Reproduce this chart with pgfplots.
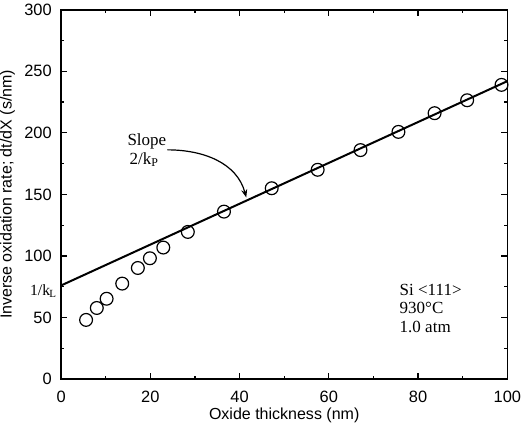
\documentclass[border=0pt]{standalone}
\usepackage{pgfplots}
\pgfplotsset{compat=1.18}
\usepackage{fontspec}
\setmainfont{Liberation Serif}
\setsansfont{Liberation Sans}
\usetikzlibrary{arrows.meta}
\begin{document}
\begin{tikzpicture}
\begin{axis}[
  scale only axis, width=223pt, height=184.5pt,
  xmin=0, xmax=100, ymin=0, ymax=300,
  xtick={0,20,...,100}, ytick={0,50,...,300},
  minor x tick num=1, minor y tick num=1,
  tick align=inside, major tick length=3pt, minor tick length=1.5pt,
  axis line style={line width=0.8pt},
  tick style={line width=0.6pt, black},
  /pgf/number format/assume math mode=true,
  ticklabel style={font=\sffamily\fontsize{8.2}{9}\selectfont, inner sep=0pt},
  xticklabel shift=6pt, yticklabel shift=4.5pt,
  xlabel={Oxide thickness (nm)},
  ylabel={Inverse oxidation rate; dt/dX (s/nm)},
  xlabel style={font=\sffamily\fontsize{8}{9}\selectfont, inner sep=0pt, yshift=-2pt},
  ylabel style={font=\sffamily\fontsize{8}{9}\selectfont, inner sep=0pt, yshift=4.5pt},
  clip=false,
]
\addplot[only marks, mark=o, mark size=3.2pt, mark options={line width=0.6pt}] coordinates {
(5.6,48) (8.0,57.7) (10.2,65.2) (13.7,77.5) (17.2,90.2) (19.9,98.1) (22.9,106.8) (28.4,119.5)
(36.5,136) (47.2,155) (57.5,170) (67.1,186) (75.6,200.8) (83.7,216) (91.0,226.5) (98.7,239)
};
\addplot[black, line width=1pt] coordinates {(0,76) (100,242)};
\node[font=\fontsize{8.5}{9.5}\selectfont, align=left, anchor=north west, inner sep=0pt] at (axis cs:14.8,200) {Slope\\\hspace*{1pt}2/k\textsubscript{P}};
\draw[-{Stealth[length=4pt,width=3pt]}, line width=0.6pt] (axis cs:23.8,186.2) to[out=0,in=105] (axis cs:41.5,147.5);
\node[font=\fontsize{7.8}{8}\selectfont, anchor=east, inner sep=0pt] at (axis cs:-0.8,71.5) {1/k\kern-0.3pt\textsubscript{L}};
\node[font=\fontsize{8.5}{9.3}\selectfont, anchor=north west, align=left, inner sep=0pt] at (axis cs:75.8,77.5) {Si <111>\\930°C\\1.0 atm};
\end{axis}
\path ([yshift=2pt]current bounding box.north);
\end{tikzpicture}
\end{document}
